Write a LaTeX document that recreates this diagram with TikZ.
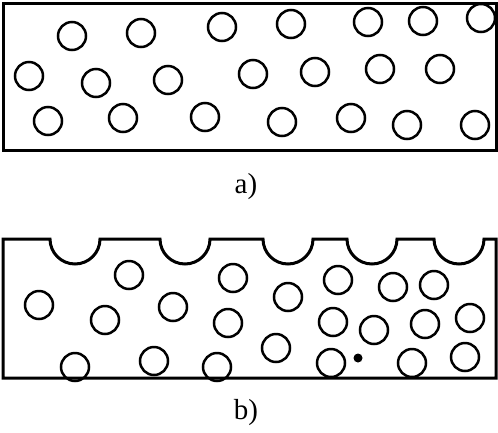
\documentclass[tikz,border=0pt]{standalone}
\usepackage{fontspec}
\setmainfont{Liberation Serif}
\usepackage{tikz}
\newcommand{\capfont}{\fontsize{29}{33}\selectfont}

\begin{document}
\begin{tikzpicture}[
    x=1pt, y=-1pt,
    frame/.style={line width=3pt, line join=miter},
    grain/.style={line width=2.5pt},
    labeltext/.style={inner sep=0pt}
]
\useasboundingbox (0,0) rectangle (498,432);
\draw[frame] (3,3) rectangle (496,150);
\foreach \x/\y in {72/36, 141/33, 222/27, 291/24, 368/22, 423/21, 481/18,
                   29/76, 96/83, 168/80, 253/74, 315/72, 380/69, 440/69,
                   48/121, 123/118, 205/117, 282/122, 351/118, 407/125, 475/125}
  \draw[grain] (\x,\y) circle (14);
\node[labeltext] (capa) at (246,187) {\capfont a)};
\draw[frame] (3,378) -- (3,239) -- (50,239) arc (180:0:25) -- (160,239) arc (180:0:25)
  -- (263,239) arc (180:0:25) -- (347,239) arc (180:0:25) -- (434,239) arc (180:0:25)
  -- (496,239) -- (496,378) -- cycle;
\foreach \x/\y in {129/275, 233/278, 39/305, 105/320, 173/307, 228/323, 75/367, 154/361, 217/367,
                   288/297, 338/280, 393/287, 434/285, 333/322, 374/330, 425/324, 470/318,
                   276/348, 331/363, 412/363, 465/357}
  \draw[grain] (\x,\y) circle (14);
\fill (358,358) circle (4.5);
\node[labeltext] (capb) at (246,413) {\capfont b)};
\end{tikzpicture}
\end{document}
